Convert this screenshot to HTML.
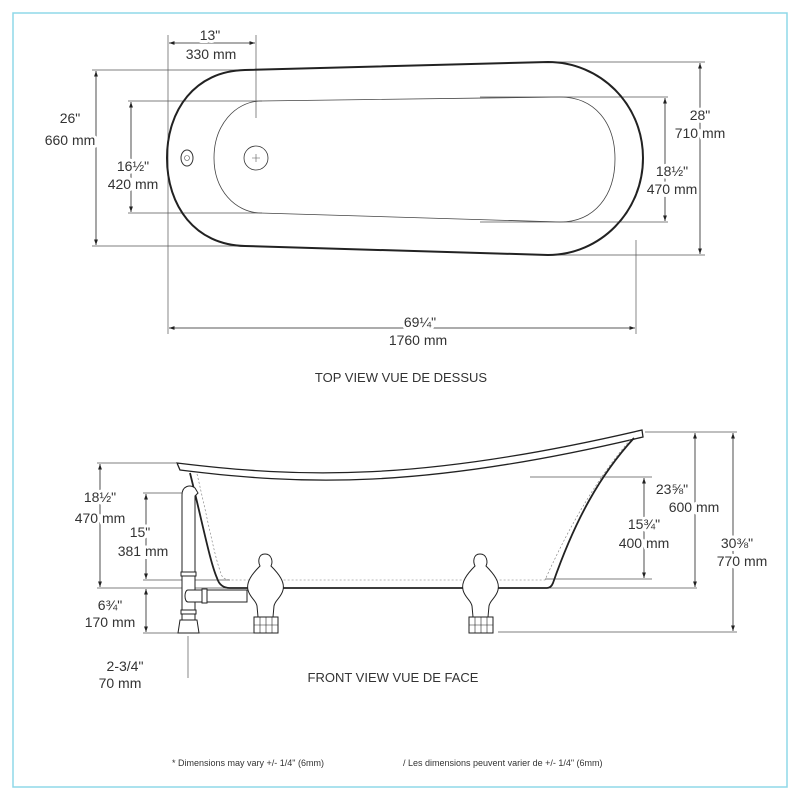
<!DOCTYPE html>
<html><head><style>
html,body{margin:0;padding:0;background:#fff;}
svg{display:block;}
text{font-family:"Liberation Sans",sans-serif;fill:#333;}
.t text{paint-order:stroke;stroke:#fff;stroke-width:6px;stroke-linejoin:round;}
</style></head><body>
<svg width="800" height="800" viewBox="0 0 800 800" xmlns="http://www.w3.org/2000/svg">
<defs>
<marker id="a" viewBox="0 0 10 10" refX="10" refY="5" markerWidth="7" markerHeight="7" orient="auto-start-reverse"><path d="M0,1.5 L10,5 L0,8.5 Z" fill="#222"/></marker>
</defs>
<rect x="13" y="13" width="774" height="774" fill="none" stroke="#8fd8e8" stroke-width="1.5"/>

<!-- TOP VIEW -->
<g fill="none" stroke="#555" stroke-width="0.7">
<line x1="168" y1="35" x2="168" y2="334"/>
<line x1="256" y1="35" x2="256" y2="118"/>
<line x1="92" y1="70" x2="250" y2="70"/>
<line x1="92" y1="246" x2="250" y2="246"/>
<line x1="128" y1="101" x2="262" y2="101"/>
<line x1="128" y1="213" x2="262" y2="213"/>
<line x1="540" y1="62" x2="705" y2="62"/>
<line x1="540" y1="255" x2="705" y2="255"/>
<line x1="480" y1="97" x2="668" y2="97"/>
<line x1="480" y1="222" x2="668" y2="222"/>
<line x1="636" y1="240" x2="636" y2="334"/>
</g>
<g stroke="#222" stroke-width="0.8" marker-start="url(#a)" marker-end="url(#a)">
<line x1="169" y1="43" x2="255" y2="43"/>
<line x1="96" y1="71" x2="96" y2="245"/>
<line x1="131" y1="102" x2="131" y2="212"/>
<line x1="700" y1="63" x2="700" y2="254"/>
<line x1="665" y1="98" x2="665" y2="221"/>
<line x1="169" y1="328" x2="635" y2="328"/>
</g>
<path d="M245,70 C195,71 167,110 167,158 C167,206 195,245 245,246 L548,255 C600,255 643,212 643,158 C643,104 600,62 548,62 Z" fill="none" stroke="#222" stroke-width="2"/>
<path d="M260,101 C235,102 214,125 214,158 C214,190 235,212 260,213 L560,222 C595,222 615,195 615,159 C615,123 595,97 560,97 Z" fill="none" stroke="#444" stroke-width="0.8"/>
<circle cx="256" cy="158" r="12" fill="none" stroke="#333" stroke-width="0.8"/>
<path d="M252,158 h8 M256,154 v8" stroke="#555" stroke-width="0.6"/>
<ellipse cx="187" cy="158" rx="6" ry="8" fill="none" stroke="#333" stroke-width="1"/>
<circle cx="187" cy="158" r="2.5" fill="none" stroke="#555" stroke-width="0.6"/>
<g class="t" font-size="14" text-anchor="middle">
<text x="210" y="40">13"</text><text x="211" y="59">330 mm</text>
<text x="70" y="123">26"</text><text x="70" y="145">660 mm</text>
<text x="133" y="171">16½"</text><text x="133" y="189">420 mm</text>
<text x="700" y="120">28"</text><text x="700" y="138">710 mm</text>
<text x="672" y="176">18½"</text><text x="672" y="194">470 mm</text>
<text x="420" y="327">69¼"</text><text x="418" y="345">1760 mm</text>
</g>
<text x="401" y="382" font-size="13" text-anchor="middle">TOP VIEW  VUE DE DESSUS</text>

<!-- FRONT VIEW -->
<g fill="none" stroke="#555" stroke-width="0.7">
<line x1="97" y1="463" x2="176" y2="463"/>
<line x1="143" y1="493" x2="186" y2="493"/>
<line x1="143" y1="580" x2="230" y2="580"/>
<line x1="97" y1="588" x2="230" y2="588"/>
<line x1="143" y1="633" x2="255" y2="633"/>
<line x1="188" y1="636" x2="188" y2="678"/>
<line x1="645" y1="432" x2="737" y2="432"/>
<line x1="530" y1="477" x2="652" y2="477"/>
<line x1="545" y1="579" x2="652" y2="579"/>
<line x1="550" y1="588" x2="697" y2="588"/>
<line x1="498" y1="632" x2="737" y2="632"/>
</g>
<g stroke="#222" stroke-width="0.8" marker-start="url(#a)" marker-end="url(#a)">
<line x1="100" y1="464" x2="100" y2="587"/>
<line x1="146" y1="494" x2="146" y2="579"/>
<line x1="146" y1="589" x2="146" y2="632"/>
<line x1="695" y1="433" x2="695" y2="587"/>
<line x1="733" y1="433" x2="733" y2="631"/>
<line x1="644" y1="478" x2="644" y2="578"/>
</g>
<path d="M177,463 C300,478 420,482 642,430 L643,437 C420,490 300,485 180,470 Z" fill="#fff" stroke="#222" stroke-width="1.3"/>
<path d="M190,473 C203,525 210,562 217,578 Q220,588 230,588 L547,588 Q551,588 553,583 C575,520 600,475 634,438" fill="none" stroke="#222" stroke-width="1.8"/>
<path d="M197,474 C208,520 215,560 222,576 Q224,580 232,580 L545,580 C572,520 600,475 630,440" fill="none" stroke="#777" stroke-width="0.6" stroke-dasharray="2,2"/>
<g fill="#fff" stroke="#222" stroke-width="1">
<path d="M265,554 C258,554 258,562 260,566 C252,574 246,582 248,590 C250,598 256,600 257,606 L258,617 L273,617 L274,606 C275,600 281,598 283,590 C285,582 279,574 271,566 C273,562 272,554 265,554 Z"/>
<rect x="254" y="617" width="24" height="16"/>
<path d="M260,617 v16 M266,617 v16 M272,617 v16 M254,625 h24" stroke-width="0.6"/>
<path d="M480,554 C473,554 473,562 475,566 C467,574 461,582 463,590 C465,598 471,600 472,606 L473,617 L488,617 L489,606 C490,600 496,598 498,590 C500,582 494,574 486,566 C488,562 487,554 480,554 Z"/>
<rect x="469" y="617" width="24" height="16"/>
<path d="M475,617 v16 M481,617 v16 M487,617 v16 M469,625 h24" stroke-width="0.6"/>
</g>
<g fill="#fff" stroke="#222" stroke-width="1">
<path d="M182,633 L182,495 C182,486 190,484 195,488 L198,493 L195,496 L195,633"/>
<rect x="181" y="572" width="15" height="4"/>
<rect x="181" y="610" width="15" height="4"/>
<path d="M178,633 L180,620 L197,620 L199,633 Z"/>
<path d="M188,590 L247,590 L247,602 L188,602 C184,602 184,590 188,590 Z"/>
<rect x="202" y="589" width="5" height="14"/>
</g>
<g class="t" font-size="14" text-anchor="middle">
<text x="100" y="502">18½"</text><text x="100" y="523">470 mm</text>
<text x="140" y="537">15"</text><text x="143" y="556">381 mm</text>
<text x="110" y="610">6¾"</text><text x="110" y="627">170 mm</text>
<text x="125" y="671">2-3/4"</text><text x="120" y="688">70 mm</text>
<text x="672" y="494">23⅝"</text><text x="694" y="512">600 mm</text>
<text x="644" y="529">15¾"</text><text x="644" y="548">400 mm</text>
<text x="737" y="548">30⅜"</text><text x="742" y="566">770 mm</text>
</g>
<text x="393" y="682" font-size="13" text-anchor="middle">FRONT VIEW  VUE DE FACE</text>
<text x="172" y="766" font-size="9">* Dimensions may vary +/- 1/4" (6mm)</text>
<text x="403" y="766" font-size="9">/ Les dimensions peuvent varier de +/- 1/4" (6mm)</text>
</svg>
</body></html>
